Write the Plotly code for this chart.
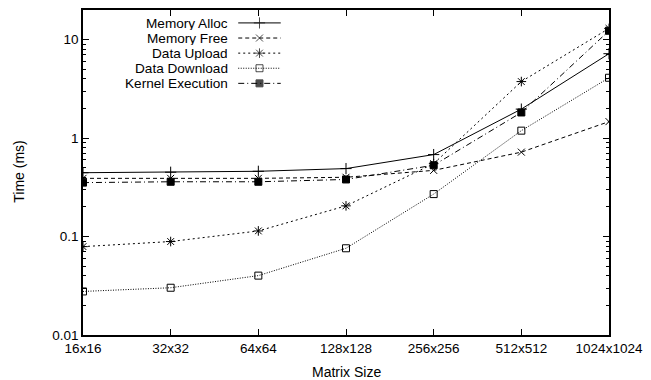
import plotly.graph_objects as go

categories = ["16x16", "32x32", "64x64", "128x128", "256x256", "512x512", "1024x1024"]
memory_alloc = [0.445, 0.45, 0.46, 0.49, 0.68, 1.97, 7.2]
memory_free = [0.39, 0.39, 0.39, 0.40, 0.47, 0.72, 1.47]
data_upload = [0.079, 0.089, 0.114, 0.205, 0.55, 3.75, 13.0]
data_download = [0.0277, 0.0302, 0.0401, 0.076, 0.27, 1.19, 4.1]
kernel_exec = [0.353, 0.36, 0.36, 0.38, 0.53, 1.82, 12.3]

series = [
    ("Memory Alloc", memory_alloc, "solid", "cross-thin", 8),
    ("Memory Free", memory_free, "4px,3px", "x-thin", 7),
    ("Data Upload", data_upload, "2px,3px", "asterisk", 8),
    ("Data Download", data_download, "1px,1.5px", "square-open", 7),
    ("Kernel Execution", kernel_exec, "6px,3px,1px,3px", "square", 7),
]

FONT = "Liberation Sans, Arial, Helvetica, sans-serif"
W, H = 651, 380
L, R, T, B = 83, 36, 8, 45
PW, PH = W - L - R, H - T - B

fig = go.Figure()
for name, vals, dash, sym, size in series:
    fig.add_trace(go.Scatter(
        x=categories, y=vals, mode="lines+markers", name=name,
        line=dict(color="black", width=1, dash=dash),
        marker=dict(symbol=sym, size=size, color="black",
                    line=dict(color="black", width=1)),
        showlegend=False,
    ))

# custom gnuplot-style legend (text right-aligned, sample to the right)
text_right_px = 231
sample_x0, sample_x1 = 240, 283
row_y0, row_dy = 21, 15.2
for i, (name, vals, dash, sym, size) in enumerate(series):
    py = row_y0 + i * row_dy
    yp = (T + PH - py) / PH
    xa = (sample_x0 - L) / PW
    xb = (sample_x1 - L) / PW
    fig.add_trace(go.Scatter(
        x=[xa, (xa + xb) / 2, xb], y=[yp, yp, yp], mode="lines+markers",
        xaxis="x2", yaxis="y2", showlegend=False, hoverinfo="skip",
        line=dict(color="black", width=1, dash=dash),
        marker=dict(symbol=sym, size=[0, size, 0], color="black",
                    line=dict(color="black", width=1)),
    ))
    fig.add_annotation(
        x=(text_right_px - L) / PW, y=yp, xref="paper", yref="paper",
        text=name, showarrow=False, xanchor="right", yanchor="middle",
        height=14, borderpad=0,
        font=dict(family=FONT, size=13.6, color="black"),
    )

# axis titles
fig.add_annotation(x=(349 - L) / PW, y=(T + PH - 372) / PH, xref="paper", yref="paper",
                   text="Matrix Size", showarrow=False, xanchor="center", yanchor="middle",
                   font=dict(family=FONT, size=14, color="#000000"))
fig.add_annotation(x=(18 - L) / PW, y=(T + PH - 171) / PH, xref="paper", yref="paper",
                   text="Time (ms)", showarrow=False, textangle=-90,
                   xanchor="center", yanchor="middle",
                   font=dict(family=FONT, size=14, color="#000000"))

fig.update_layout(
    width=W, height=H,
    margin=dict(l=L, r=R, t=T, b=B, pad=0),
    paper_bgcolor="white", plot_bgcolor="white",
    font=dict(family=FONT, size=13.5, color="black"),
    xaxis=dict(
        type="category", range=[0, 6], showgrid=False, zeroline=False,
        showline=True, linecolor="black", linewidth=1.5, mirror="allticks",
        ticks="inside", ticklen=6, tickcolor="black", tickwidth=1,
        tickfont=dict(size=13.5),
    ),
    yaxis=dict(
        type="log", range=[-2, 1.301], showgrid=False, zeroline=False,
        showline=True, linecolor="black", linewidth=1.5, mirror="allticks",
        ticks="inside", ticklen=6, tickcolor="black", tickwidth=1,
        tickvals=[0.01, 0.1, 1, 10], ticktext=["0.01", "0.1", "1", "10"],
        minor=dict(ticks="inside", ticklen=3, tickcolor="black",
                   tickvals=[m * 10 ** e for e in (-2, -1, 0, 1) for m in range(2, 10)
                             if m * 10 ** e < 20]),
        tickfont=dict(size=13.5),
    ),
    xaxis2=dict(overlaying="x", range=[0, 1], visible=False, domain=[0, 1]),
    yaxis2=dict(overlaying="y", range=[0, 1], visible=False),
)

fig.write_html("out.html")
